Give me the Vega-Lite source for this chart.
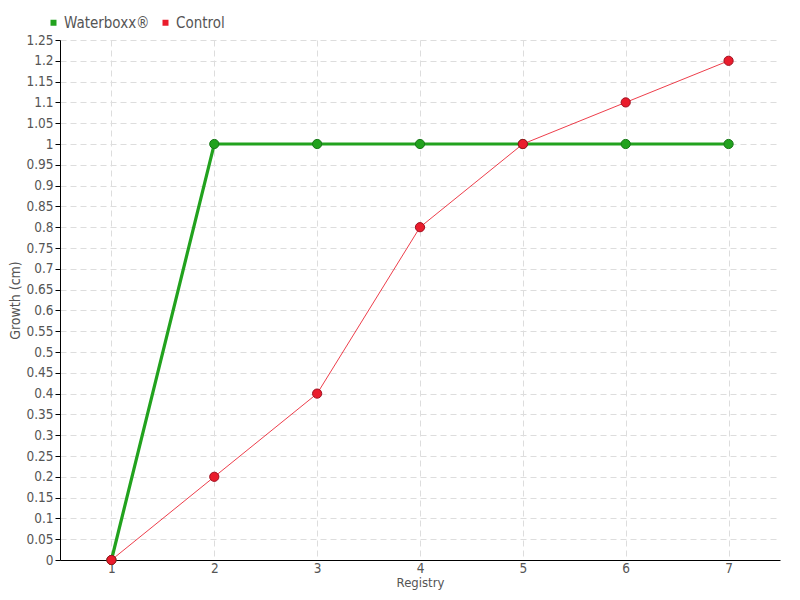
{
  "$schema": "https://vega.github.io/schema/vega-lite/v6.json",
  "width": 720,
  "height": 520,
  "autosize": "none",
  "padding": {"left": 60, "top": 40, "right": 20, "bottom": 40},
  "background": "white",
  "config": {
    "font": "DejaVu Sans Condensed",
    "view": {"stroke": null},
    "axis": {
      "labelFont": "DejaVu Sans Condensed",
      "titleFont": "DejaVu Sans Condensed",
      "labelColor": "#555555",
      "titleColor": "#555555",
      "labelFontSize": 13.5,
      "titleFontSize": 14,
      "titleFontWeight": "normal",
      "domainColor": "#000000",
      "tickColor": "#000000",
      "gridColor": "#dddddd",
      "gridDash": [6, 4]
    }
  },
  "data": {
    "values": [
      {"series": "Waterboxx®", "registry": "1", "growth": 0},
      {"series": "Waterboxx®", "registry": "2", "growth": 1},
      {"series": "Waterboxx®", "registry": "3", "growth": 1},
      {"series": "Waterboxx®", "registry": "4", "growth": 1},
      {"series": "Waterboxx®", "registry": "5", "growth": 1},
      {"series": "Waterboxx®", "registry": "6", "growth": 1},
      {"series": "Waterboxx®", "registry": "7", "growth": 1},
      {"series": "Control", "registry": "1", "growth": 0},
      {"series": "Control", "registry": "2", "growth": 0.2},
      {"series": "Control", "registry": "3", "growth": 0.4},
      {"series": "Control", "registry": "4", "growth": 0.8},
      {"series": "Control", "registry": "5", "growth": 1},
      {"series": "Control", "registry": "6", "growth": 1.1},
      {"series": "Control", "registry": "7", "growth": 1.2}
    ]
  },
  "encoding": {
    "x": {
      "field": "registry",
      "type": "ordinal",
      "scale": {"type": "point", "padding": 0.5},
      "axis": {"title": "Registry", "labelAngle": 0, "ticks": false, "labelPadding": 1, "titlePadding": 2, "titleFontSize": 13, "grid": true}
    },
    "y": {
      "field": "growth",
      "type": "quantitative",
      "scale": {"domain": [0, 1.25], "nice": false},
      "axis": {
        "title": "Growth (cm)",
        "values": [0,0.05,0.1,0.15,0.2,0.25,0.3,0.35,0.4,0.45,0.5,0.55,0.6,0.65,0.7,0.75,0.8,0.85,0.9,0.95,1,1.05,1.1,1.15,1.2,1.25],
        "format": ".2~f",
        "tickSize": 5,
        "labelPadding": 2,
        "titlePadding": 3,
        "grid": true
      }
    },
    "color": {
      "field": "series",
      "type": "nominal",
      "sort": ["Waterboxx®", "Control"],
      "scale": {"domain": ["Waterboxx®", "Control"], "range": ["#22a21e", "#ea1c2c"]},
      "legend": {
        "title": null,
        "orient": "none",
        "legendX": -14,
        "legendY": -25,
        "direction": "horizontal",
        "symbolType": "square",
        "symbolSize": 36,
        "symbolStrokeWidth": 0,
        "labelFontSize": 15,
        "labelColor": "#555555",
        "labelFont": "DejaVu Sans Condensed",
        "columnPadding": 8,
        "symbolOffset": 0,
        "labelOffset": 3
      }
    }
  },
  "layer": [
    {
      "mark": {"type": "line"},
      "encoding": {
        "strokeWidth": {"condition": {"test": "datum.series === 'Control'", "value": 1}, "value": 3.2},
        "opacity": {"condition": {"test": "datum.series === 'Control'", "value": 0.85}, "value": 1}
      }
    },
    {
      "mark": {"type": "point", "filled": true, "size": 85, "opacity": 1, "strokeWidth": 1},
      "encoding": {
        "stroke": {"condition": {"test": "datum.series === 'Control'", "value": "#a01020"}, "value": "#187818"}
      }
    }
  ]
}
